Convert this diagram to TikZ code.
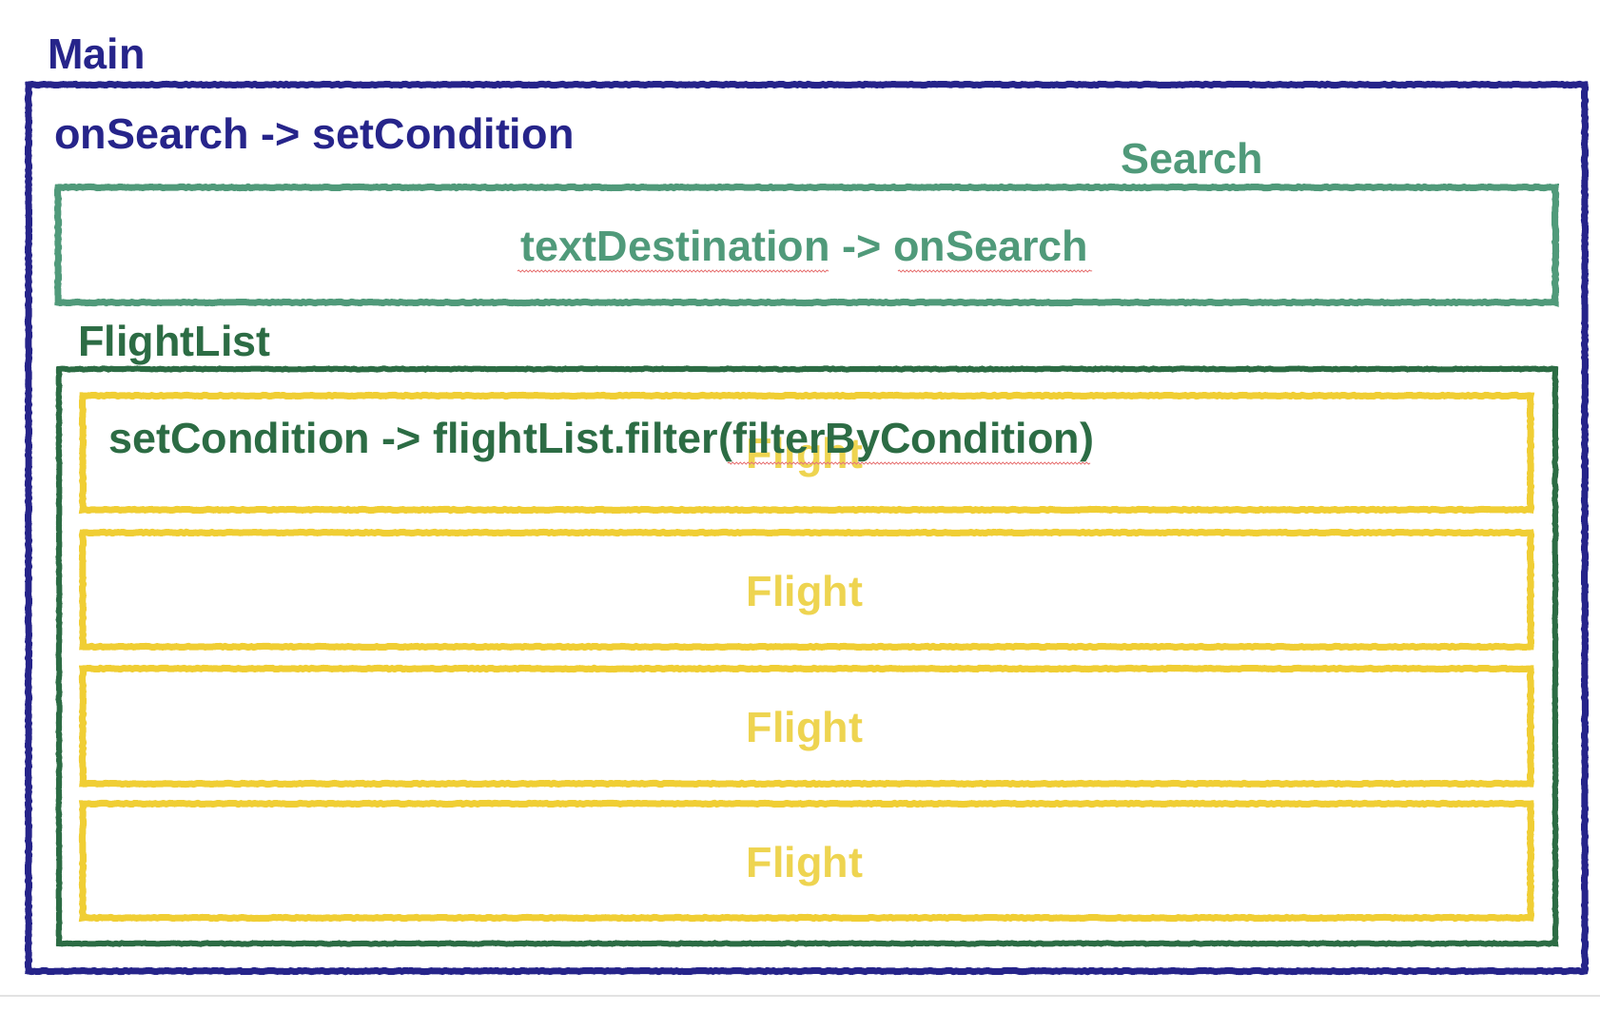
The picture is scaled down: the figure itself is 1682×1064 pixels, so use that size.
\documentclass[tikz,border=0pt]{standalone}
\usepackage{fontspec}
\setmainfont{Liberation Sans}
\usetikzlibrary{decorations.pathmorphing}
\definecolor{mainblue}{RGB}{38,36,138}
\definecolor{searchteal}{RGB}{80,154,122}
\definecolor{listgreen}{RGB}{44,108,68}
\definecolor{flightyellow}{RGB}{240,206,52}
\definecolor{flighttext}{RGB}{238,212,80}
\definecolor{spellred}{RGB}{232,120,120}
\tikzset{
  x=1pt, y=-1pt,
  lbl/.style={anchor=base west, inner sep=0pt, font=\fontsize{45}{54}\selectfont\bfseries},
  clbl/.style={anchor=base, inner sep=0pt, font=\fontsize{45}{54}\selectfont\bfseries},
  crayon/.style={line width=7pt, line join=miter,
    decorate, decoration={random steps, segment length=3pt, amplitude=0.6pt}},
  mainbox/.style={crayon, draw=mainblue},
  searchbox/.style={crayon, draw=searchteal},
  listbox/.style={crayon, draw=listgreen, line width=6pt},
  flightbox/.style={crayon, draw=flightyellow},
  spell/.style={draw=spellred, line width=1pt, decorate,
    decoration={snake, amplitude=1pt, segment length=4pt}},
}
\begin{document}
\begin{tikzpicture}
\useasboundingbox (0,0) rectangle (1682,1064);
\fill[white] (0,0) rectangle (1682,1064);
% bottom separator line
\draw[draw={rgb,255:red,226;green,226;blue,226}, line width=2pt] (0,1047) -- (1682,1047);

% Main
\draw[mainbox] (30,89) rectangle (1666,1021);
\node[lbl, text=mainblue] (mainlbl) at (50,73) {Main};
\node[lbl, text=mainblue] (maincode) at (57,157) {onSearch -> setCondition};

% Search
\draw[searchbox] (61,197) rectangle (1635,318);
\node[lbl, text=searchteal] (searchlbl) at (1178,183) {Search};
\node[clbl, text=searchteal] (searchcode) at (846,275) {textDestination -> onSearch};
\coordinate (sp1a) at (544,285); \coordinate (sp1b) at (871,285);
\coordinate (sp2a) at (944,285); \coordinate (sp2b) at (1148,285);
\draw[spell] (sp1a) -- (sp1b);
\draw[spell] (sp2a) -- (sp2b);

% FlightList
\draw[listbox] (62,388) rectangle (1635,992);
\node[lbl, text=listgreen] (listlbl) at (82,375) {FlightList};

% Flights
\draw[flightbox] (87,416) rectangle (1609,536);
\draw[flightbox] (87,560) rectangle (1609,680);
\draw[flightbox] (87,703) rectangle (1609,824);
\draw[flightbox] (87,845) rectangle (1609,965);
\node[clbl, text=flighttext] (f1) at (846,493) {Flight};
\node[clbl, text=flighttext] (f2) at (846,637) {Flight};
\node[clbl, text=flighttext] (f3) at (846,780) {Flight};
\node[clbl, text=flighttext] (f4) at (846,922) {Flight};

\node[lbl, text=listgreen] (listcode) at (114,477) {setCondition -> flightList.filter(filterByCondition)};
\coordinate (sp3a) at (765,487); \coordinate (sp3b) at (1146,487);
\draw[spell] (sp3a) -- (sp3b);
\end{tikzpicture}
\end{document}
